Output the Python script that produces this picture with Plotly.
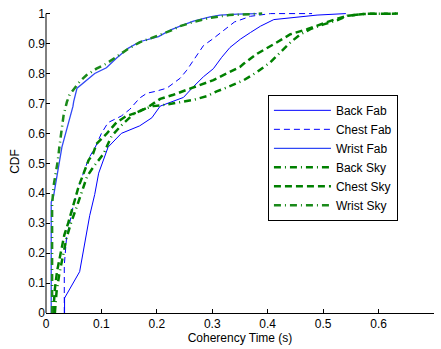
import plotly.graph_objects as go

# Coherency-time CDFs: (time in s, cumulative fraction)
back_fab_x = [0.0335, 0.0335, 0.0607, 0.0788, 0.0879, 0.095, 0.112, 0.136, 0.169, 0.191, 0.206, 0.224,
              0.248, 0.266, 0.284, 0.302, 0.317, 0.332, 0.351, 0.369, 0.387, 0.411, 0.453, 0.489, 0.541]
back_fab_y = [0.0, 0.05, 0.138, 0.325, 0.396, 0.467, 0.554, 0.6, 0.625, 0.652, 0.691, 0.704,
              0.72, 0.756, 0.789, 0.816, 0.854, 0.887, 0.915, 0.937, 0.958, 0.98, 0.989, 0.995, 1.0]

chest_fab_x = [0.033, 0.033, 0.037, 0.043, 0.049, 0.059, 0.077, 0.089, 0.1, 0.112, 0.136, 0.151,
               0.169, 0.182, 0.197, 0.218, 0.242, 0.254, 0.269, 0.284, 0.302, 0.323, 0.34, 0.369,
               0.405, 0.48]
chest_fab_y = [0.0, 0.16, 0.25, 0.3, 0.357, 0.423, 0.516, 0.554, 0.6, 0.636, 0.658, 0.68,
               0.718, 0.734, 0.74, 0.751, 0.784, 0.811, 0.854, 0.893, 0.917, 0.948, 0.972, 0.991,
               1.0, 1.0]

wrist_fab_x = [0.0094, 0.0094, 0.0136, 0.0287, 0.0486, 0.05, 0.056, 0.0697, 0.0879, 0.109, 0.127,
               0.148, 0.169, 0.203, 0.224, 0.242, 0.266, 0.296, 0.314, 0.345, 0.38]
wrist_fab_y = [0.0, 0.37, 0.39, 0.554, 0.69, 0.707, 0.751, 0.773, 0.8, 0.819, 0.851,
               0.884, 0.906, 0.923, 0.945, 0.958, 0.975, 0.989, 0.995, 0.998, 1.0]

back_sky_x = [0.016, 0.019, 0.024, 0.03, 0.037, 0.045, 0.053, 0.062, 0.074, 0.086, 0.104, 0.118,
              0.135, 0.157, 0.175, 0.193, 0.218, 0.242, 0.266, 0.29, 0.308, 0.326, 0.345, 0.357,
              0.381, 0.405, 0.423, 0.441, 0.459, 0.477, 0.501, 0.526, 0.544, 0.574, 0.635]
back_sky_y = [0.0, 0.07, 0.13, 0.19, 0.25, 0.3, 0.34, 0.39, 0.456, 0.489, 0.532, 0.59,
              0.625, 0.663, 0.68, 0.691, 0.696, 0.705, 0.712, 0.724, 0.74, 0.753, 0.77, 0.778,
              0.805, 0.838, 0.871, 0.904, 0.931, 0.948, 0.964, 0.978, 0.993, 0.999, 1.0]

chest_sky_x = [0.013, 0.016, 0.02, 0.026, 0.033, 0.04, 0.048, 0.053, 0.059, 0.068, 0.077, 0.085,
               0.091, 0.109, 0.127, 0.145, 0.163, 0.182, 0.206, 0.23, 0.254, 0.278, 0.302, 0.326,
               0.35, 0.357, 0.381, 0.411, 0.441, 0.471, 0.495, 0.52, 0.544, 0.574, 0.635]
chest_sky_y = [0.0, 0.08, 0.14, 0.2, 0.26, 0.3, 0.35, 0.379, 0.423, 0.467, 0.511, 0.532,
               0.565, 0.598, 0.636, 0.658, 0.669, 0.685, 0.715, 0.729, 0.745, 0.762, 0.778, 0.8,
               0.822, 0.833, 0.866, 0.898, 0.931, 0.948, 0.964, 0.98, 0.993, 0.999, 1.0]

wrist_sky_x = [0.011, 0.011, 0.0136, 0.0214, 0.0245, 0.0317, 0.0377, 0.0426, 0.0516, 0.0607, 0.0728,
               0.091, 0.109, 0.127, 0.148, 0.169, 0.193, 0.224, 0.242, 0.266, 0.296, 0.33, 0.39]
wrist_sky_y = [0.0, 0.36, 0.423, 0.51, 0.56, 0.66, 0.705, 0.729, 0.751, 0.773, 0.794,
               0.816, 0.833, 0.855, 0.882, 0.904, 0.92, 0.942, 0.958, 0.972, 0.986, 0.995, 1.0]

x_ticks = [0, 0.1, 0.2, 0.3, 0.4, 0.5, 0.6, 0.7]
x_tick_text = ["0", "0.1", "0.2", "0.3", "0.4", "0.5", "0.6", "0.7"]
y_ticks = [0, 0.1, 0.2, 0.3, 0.4, 0.5, 0.6, 0.7, 0.8, 0.9, 1.0]
y_tick_text = ["0", "0.1", "0.2", "0.3", "0.4", "0.5", "0.6", "0.7", "0.8", "0.9", "1"]

BLUE = "#0000ff"
GREEN = "#008000"
FONT = "Liberation Sans, Arial, Helvetica, sans-serif"
FS = 12

series = [
    ("Back Fab", back_fab_x, back_fab_y, BLUE, 1.0, "solid"),
    ("Chest Fab", chest_fab_x, chest_fab_y, BLUE, 1.0, "6px,4px"),
    ("Wrist Fab", wrist_fab_x, wrist_fab_y, "#3048f5", 1.3, "solid"),
    ("Back Sky", back_sky_x, back_sky_y, GREEN, 2.5, "7px,4px,1px,4px"),
    ("Chest Sky", chest_sky_x, chest_sky_y, GREEN, 2.5, "7px,4px"),
    ("Wrist Sky", wrist_sky_x, wrist_sky_y, "#1a8a1a", 2.5, "7px,4px,1px,4px"),
]

fig = go.Figure()
for name, xs, ys, color, width, dash in series:
    fig.add_trace(go.Scatter(
        x=xs, y=ys, mode="lines", name=name,
        line=dict(color=color, width=width, dash=dash),
    ))

axis_common = dict(
    showgrid=False, zeroline=False, ticks="inside", ticklen=4,
    tickcolor="black", tickwidth=1,
    tickfont=dict(family=FONT, size=FS, color="black"),
    title_font=dict(family=FONT, size=FS, color="black"),
)

fig.update_layout(
    width=441, height=349,
    margin=dict(l=46, r=7, t=10, b=30),
    paper_bgcolor="white", plot_bgcolor="white",
    font=dict(family=FONT, size=FS, color="black"),
    xaxis=dict(range=[0, 0.7], tickvals=x_ticks, ticktext=x_tick_text,
               showline=True, linecolor="black", linewidth=1,
               title=dict(text="Coherency Time (s)", standoff=2), **axis_common),
    yaxis=dict(range=[0, 1.012], tickvals=y_ticks, ticktext=y_tick_text,
               showline=False,
               title=dict(text="CDF", standoff=6), **axis_common),
    legend=dict(
        x=0.572, y=0.72, xanchor="left", yanchor="top",
        bgcolor="white", bordercolor="black", borderwidth=1,
        font=dict(family=FONT, size=FS, color="black"),
        itemwidth=57, entrywidth=108, entrywidthmode="pixels",
    ),
    showlegend=True,
    shapes=[
        # left axis spine from 0 up to 1
        dict(type="line", xref="paper", yref="y", x0=0, x1=0, y0=0, y1=1,
             line=dict(color="black", width=1)),
    ],
)

fig.write_html("out.html")
